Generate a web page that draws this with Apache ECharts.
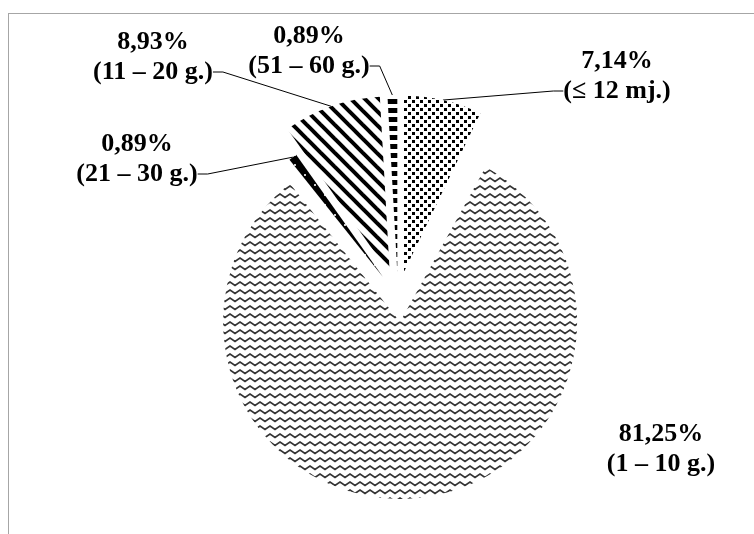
<!DOCTYPE html>
<html>
<head>
	<meta charset="utf-8">
	<title></title>
	<style type="text/css">
		body {
			margin: 0;
			background: #fff;
		}
		#frame {
			position: absolute;
			left: 8px;
			top: 13px;
			width: 800px;
			height: 600px;
			border-left: 1px solid #a6a6a6;
			border-top: 1px solid #a6a6a6;
		}
		#main {
			position: absolute;
			left: 0;
			top: 0;
			width: 754px;
			height: 534px;
		}
	</style>
	<script src='https://cdn.jsdelivr.net/npm/echarts@6/dist/echarts.min.js'></script>
</head>
<body>

	<div id="frame"></div>
	<div id="main"></div>

	<script type="text/javascript">
		// age groups, clockwise from 12 o'clock ('' = the unlabelled 1/112 that shows only as a gap)
		var groups = ['≤ 12 mj.', '', '1 – 10 g.', '21 – 30 g.', '11 – 20 g.', '51 – 60 g.'];
		var shares = [7.14, 0.89, 81.25, 0.89, 8.93, 0.89];

		// where each label block sits (centre x, top y)
		var labelPos = [[617, 46], null, [661, 419], [137, 129], [153, 27], [309, 21]];

		var pieCenter = [398, 297];
		var explode = 25;
		var radii = [177, 177, 177, 150, 177, 177];

		function tile(w, h, draw) {
			var c = document.createElement('canvas');
			c.width = w;
			c.height = h;
			var ctx = c.getContext('2d');
			draw(ctx, w, h);
			return c;
		}

		var dots = tile(8, 8, function (ctx) {
			ctx.fillStyle = '#fff';
			ctx.fillRect(0, 0, 8, 8);
			ctx.fillStyle = '#000';
			ctx.fillRect(0, 0, 3, 3);
			ctx.fillRect(4, 4, 3, 3);
		});

		var waves = tile(10, 8, function (ctx) {
			ctx.fillStyle = '#fff';
			ctx.fillRect(0, 0, 10, 8);
			ctx.strokeStyle = '#333';
			ctx.lineWidth = 1.7;
			ctx.beginPath();
			ctx.moveTo(-2.5, 5.5);
			ctx.lineTo(0, 2);
			ctx.lineTo(5, 5.5);
			ctx.lineTo(10, 2);
			ctx.lineTo(12.5, 5.5);
			ctx.stroke();
		});

		var stripes = tile(14, 14, function (ctx) {
			ctx.fillStyle = '#fff';
			ctx.fillRect(0, 0, 14, 14);
			ctx.strokeStyle = '#000';
			ctx.lineWidth = 4;
			[-14, 0, 14].forEach(function (k) {
				ctx.beginPath();
				ctx.moveTo(-2, -2 + k);
				ctx.lineTo(16, 16 + k);
				ctx.stroke();
			});
		});

		var dark = tile(10, 10, function (ctx) {
			ctx.fillStyle = '#000';
			ctx.fillRect(0, 0, 10, 10);
			ctx.fillStyle = '#ccc';
			ctx.fillRect(4, 4, 2, 2);
		});

		var dashes = tile(6, 9, function (ctx) {
			ctx.fillStyle = '#fff';
			ctx.fillRect(0, 0, 6, 9);
			ctx.fillStyle = '#000';
			ctx.fillRect(0, 0, 6, 5);
		});

		var fills = [dots, null, waves, dark, stripes, dashes];

		var total = 0;
		shares.forEach(function (v) { total += v; });

		// one pie per slice so every slice can be pulled out along its own bisector
		var series = [];
		var cum = 0;
		for (var i = 0; i < shares.length; i++) {
			var mid = (cum + shares[i] / 2) / total * 2 * Math.PI;
			cum += shares[i];
			if (!fills[i]) continue;
			var data = [];
			for (var j = 0; j < shares.length; j++) {
				var own = j === i;
				data.push({
					name: groups[j],
					value: shares[j],
					itemStyle: { color: own ? { image: fills[j], repeat: 'repeat' } : 'transparent' },
					label: { show: own },
					labelLine: { show: own && j !== 2 }
				});
			}
			series.push({
				type: 'pie',
				silent: true,
				center: [pieCenter[0] + explode * Math.sin(mid), pieCenter[1] - explode * Math.cos(mid)],
				radius: radii[i],
				startAngle: 90,
				clockwise: true,
				avoidLabelOverlap: false,
				itemStyle: { borderWidth: 0 },
				emphasis: { disabled: true },
				label: {
					position: 'outside',
					fontFamily: 'Liberation Serif',
					fontWeight: 'bold',
					fontSize: 26,
					lineHeight: 30,
					color: '#000',
					align: 'center',
					formatter: function (p) {
						return p.value.toFixed(2).replace('.', ',') + '%\n(' + p.name + ')\n ';
					}
				},
				labelLine: {
					length: 10,
					length2: 10,
					lineStyle: { color: '#000', width: 1 }
				},
				labelLayout: function (p) {
					var pos = labelPos[p.dataIndex];
					if (!pos) return {};
					return { x: pos[0], y: pos[1], align: 'center', verticalAlign: 'top' };
				},
				data: data
			});
		}

		var chart = echarts.init(document.getElementById('main'));
		chart.setOption({ animation: false, series: series });
	</script>
</body>
</html>
